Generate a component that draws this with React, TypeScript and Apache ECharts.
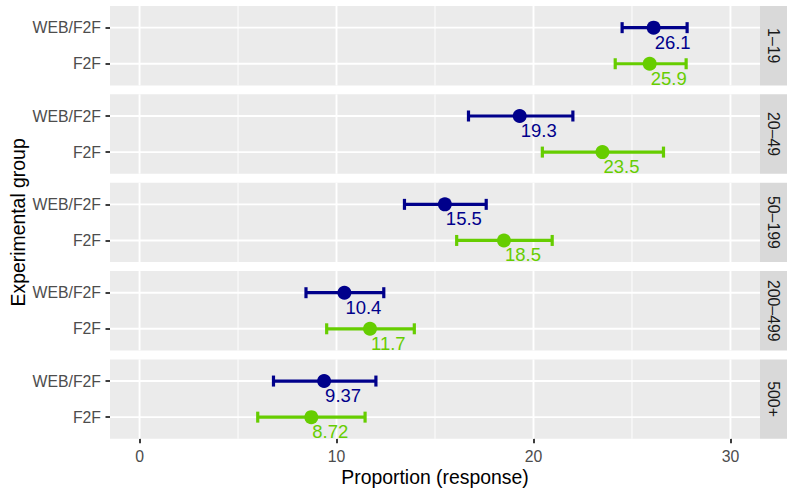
import React, { useEffect, useRef } from "react";
import * as echarts from "echarts";

const panels = ["1–19", "20–49", "50–199", "200–499", "500+"];
const groupLabels = ["F2F", "WEB/F2F"]; // y = 1, 2
const webValues = [26.1, 19.3, 15.5, 10.4, 9.37];
const webLow = [24.5, 16.7, 13.45, 8.45, 6.8];
const webHigh = [27.8, 22.0, 17.6, 12.4, 12.0];
const f2fValues = [25.9, 23.5, 18.5, 11.7, 8.72];
const f2fLow = [24.15, 20.45, 16.1, 9.5, 6.0];
const f2fHigh = [27.75, 26.6, 20.95, 13.95, 11.45];
const xTicks = [0, 10, 20, 30];
const xMinor = [5, 15, 25];
const yTicks = [1, 2];

const BLUE = "#00008B";
const GREEN = "#66CD00";
const FONT = "Liberation Sans, Arial, Helvetica, sans-serif";

const LEFT = 110;
const WIDTH = 650;
const TOP0 = 6;
const STEP = 88.35;
const H = 79.4;
const XMIN = -1.5;
const XMAX = 31.5;
const YMIN = 0.4;
const YMAX = 2.6;

export default function App() {
  const ref = useRef<HTMLDivElement>(null);
  useEffect(() => {
    document.body.style.margin = "0";
    if (!ref.current) return;
    const chart = echarts.init(ref.current, undefined, { renderer: "svg" });
    const n = panels.length;
    const grids: any[] = [];
    const xAxes: any[] = [];
    const yAxes: any[] = [];
    const series: any[] = [];
    const graphics: any[] = [];
    for (let i = 0; i < n; i++) {
      const top = TOP0 + i * STEP;
      const last = i === n - 1;
      grids.push({
        left: LEFT,
        width: WIDTH,
        top,
        height: H,
        show: true,
        backgroundColor: "#EBEBEB",
        borderWidth: 0,
        containLabel: false,
        outerBoundsMode: "none",
      });
      xAxes.push({
        type: "value",
        gridIndex: i,
        position: "bottom",
        min: XMIN,
        max: XMAX,
        axisLine: { show: false, onZero: false },
        splitLine: { show: false },
        axisTick: {
          show: last,
          customValues: xTicks,
          length: 4.5,
          lineStyle: { color: "#333333", width: 1.9 },
        },
        axisLabel: {
          show: last,
          customValues: xTicks,
          color: "#4D4D4D",
          fontSize: 15.8,
          fontFamily: FONT,
          margin: 9.5,
        },
      });
      yAxes.push({
        type: "value",
        gridIndex: i,
        position: "left",
        min: YMIN,
        max: YMAX,
        axisLine: { show: false, onZero: false },
        splitLine: { show: false },
        axisTick: {
          show: true,
          customValues: yTicks,
          length: 4.5,
          lineStyle: { color: "#333333", width: 1.9 },
        },
        axisLabel: {
          show: true,
          customValues: yTicks,
          color: "#4D4D4D",
          fontSize: 15.8,
          fontFamily: FONT,
          margin: 9,
          formatter: (v: number) => groupLabels[Math.round(v) - 1] ?? "",
        },
      });
      // grid lines
      series.push({
        type: "custom",
        xAxisIndex: i,
        yAxisIndex: i,
        silent: true,
        z: 1,
        data: [[0, 1]],
        renderItem: (_p: any, api: any) => {
          const children: any[] = [];
          xMinor.forEach((x) => {
            const a = api.coord([x, YMIN]);
            const b = api.coord([x, YMAX]);
            children.push({ type: "line", shape: { x1: a[0], y1: a[1], x2: b[0], y2: b[1] }, style: { stroke: "#FFFFFF", lineWidth: 0.95 } });
          });
          xTicks.forEach((x) => {
            const a = api.coord([x, YMIN]);
            const b = api.coord([x, YMAX]);
            children.push({ type: "line", shape: { x1: a[0], y1: a[1], x2: b[0], y2: b[1] }, style: { stroke: "#FFFFFF", lineWidth: 1.9 } });
          });
          yTicks.forEach((y) => {
            const a = api.coord([XMIN, y]);
            const b = api.coord([XMAX, y]);
            children.push({ type: "line", shape: { x1: a[0], y1: a[1], x2: b[0], y2: b[1] }, style: { stroke: "#FFFFFF", lineWidth: 1.9 } });
          });
          return { type: "group", children };
        },
      });
      // error bars
      series.push({
        type: "custom",
        xAxisIndex: i,
        yAxisIndex: i,
        silent: true,
        z: 2,
        encode: { x: [0, 1], y: 2 },
        data: [
          [webLow[i], webHigh[i], 2, 1],
          [f2fLow[i], f2fHigh[i], 1, 0],
        ],
        renderItem: (_p: any, api: any) => {
          const lo = api.coord([api.value(0), api.value(2)]);
          const hi = api.coord([api.value(1), api.value(2)]);
          const color = api.value(3) === 1 ? BLUE : GREEN;
          const st = { stroke: color, lineWidth: 3.2 };
          return {
            type: "group",
            children: [
              { type: "line", shape: { x1: lo[0], y1: lo[1], x2: hi[0], y2: hi[1] }, style: st },
              { type: "line", shape: { x1: lo[0], y1: lo[1] - 5.5, x2: lo[0], y2: lo[1] + 5.5 }, style: st },
              { type: "line", shape: { x1: hi[0], y1: hi[1] - 5.5, x2: hi[0], y2: hi[1] + 5.5 }, style: st },
            ],
          };
        },
      });
      const pts: [number, number, string][] = [
        [webValues[i], 2, BLUE],
        [f2fValues[i], 1, GREEN],
      ];
      pts.forEach(([v, y, c]) => {
        series.push({
          type: "scatter",
          xAxisIndex: i,
          yAxisIndex: i,
          z: 3,
          symbol: "circle",
          symbolSize: 14,
          itemStyle: { color: c, opacity: 1 },
          data: [[v, y]],
          label: {
            show: true,
            formatter: () => String(v),
            position: [8, 12],
            align: "left",
            verticalAlign: "top",
            color: c,
            fontSize: 18.5,
            fontFamily: FONT,
          },
        });
      });
      // strip
      graphics.push({
        type: "rect",
        shape: { x: LEFT + WIDTH, y: top, width: 27, height: H },
        style: { fill: "#D9D9D9" },
        silent: true,
      });
      graphics.push({
        type: "text",
        x: LEFT + WIDTH + 13.5,
        y: top + H / 2,
        rotation: -Math.PI / 2,
        style: {
          text: panels[i],
          fill: "#1A1A1A",
          fontSize: 15.8,
          fontFamily: FONT,
          textAlign: "center",
          textVerticalAlign: "middle",
        },
        silent: true,
      });
    }
    graphics.push({
      type: "text",
      x: LEFT + WIDTH / 2,
      y: 477,
      style: {
        text: "Proportion (response)",
        fill: "#000000",
        fontSize: 19.4,
        fontFamily: FONT,
        textAlign: "center",
        textVerticalAlign: "middle",
      },
      silent: true,
    });
    graphics.push({
      type: "text",
      x: 17.5,
      y: TOP0 + (STEP * (n - 1) + H) / 2,
      rotation: Math.PI / 2,
      style: {
        text: "Experimental group",
        fill: "#000000",
        fontSize: 19.4,
        fontFamily: FONT,
        textAlign: "center",
        textVerticalAlign: "middle",
      },
      silent: true,
    });
    chart.setOption({
      animation: false,
      textStyle: { fontFamily: FONT },
      grid: grids,
      xAxis: xAxes,
      yAxis: yAxes,
      series,
      graphic: graphics,
    });
    return () => chart.dispose();
  }, []);
  return (
    <div
      ref={ref}
      style={{ width: 787, height: 488, position: "absolute", left: 0, top: 0, background: "#FFFFFF" }}
    />
  );
}
